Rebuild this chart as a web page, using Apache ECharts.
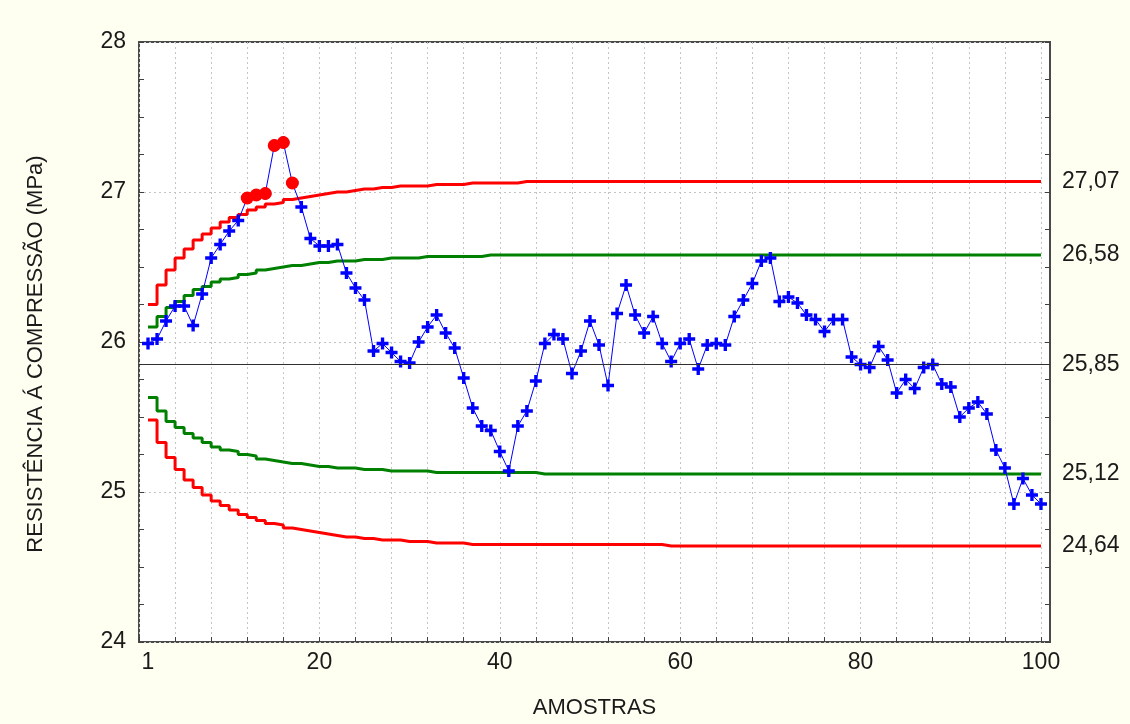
<!DOCTYPE html>
<html>
<head>
<meta charset="utf-8">
<script src="https://cdn.jsdelivr.net/npm/echarts@6/dist/echarts.min.js"></script>
<style>
html,body{margin:0;padding:0;background:#FEFEF1;}
#chart{width:1130px;height:724px;}
</style>
</head>
<body>
<div id="chart"></div>
<script>
// ---- data ----
const ewma = [
25.99,26.02,26.14,26.24,26.24,26.11,26.32,26.56,26.65,26.74,
26.81,26.96,26.98,26.99,27.31,27.33,27.06,26.90,26.69,26.64,
26.64,26.65,26.46,26.36,26.28,25.94,25.99,25.93,25.87,25.86,
26.00,26.10,26.18,26.06,25.96,25.76,25.56,25.44,25.41,25.27,
25.14,25.44,25.54,25.74,25.99,26.05,26.02,25.79,25.94,26.14,
25.98,25.71,26.19,26.38,26.18,26.06,26.17,25.99,25.87,25.99,
26.02,25.82,25.98,25.99,25.98,26.17,26.28,26.39,26.54,26.56,
26.27,26.30,26.26,26.18,26.15,26.07,26.15,26.15,25.90,25.85,
25.83,25.97,25.88,25.66,25.75,25.69,25.83,25.85,25.72,25.70,
25.50,25.56,25.60,25.52,25.28,25.16,24.92,25.09,24.98,24.92
];
const outOfControl = [12,13,14,15,16,17];

const redUpper = [
26.25,26.38,26.48,26.56,26.62,26.68,26.72,26.76,26.80,26.83,
26.85,26.88,26.90,26.92,26.93,26.95,26.96,26.97,26.98,26.99,
27.00,27.00,27.01,27.02,27.02,27.03,27.03,27.04,27.04,27.04,
27.04,27.05,27.05,27.05,27.05,27.06,27.06,27.06,27.06,27.06,
27.06,27.07,27.07,27.07,27.07,27.07,27.07,27.07,27.07,27.07,
27.07,27.07,27.07,27.07,27.07,27.07,27.07,27.07,27.07,27.07,
27.07,27.07,27.07,27.07,27.07,27.07,27.07,27.07,27.07,27.07,
27.07,27.07,27.07,27.07,27.07,27.07,27.07,27.07,27.07,27.07,
27.07,27.07,27.07,27.07,27.07,27.07,27.07,27.07,27.07,27.07,
27.07,27.07,27.07,27.07,27.07,27.07,27.07,27.07,27.07,27.07
];
const redLower = [
25.48,25.33,25.23,25.15,25.08,25.03,24.98,24.94,24.91,24.88,
24.85,24.83,24.81,24.79,24.78,24.76,24.75,24.74,24.73,24.72,
24.71,24.70,24.70,24.69,24.69,24.68,24.68,24.68,24.67,24.67,
24.67,24.66,24.66,24.66,24.66,24.65,24.65,24.65,24.65,24.65,
24.65,24.65,24.65,24.65,24.65,24.65,24.65,24.65,24.65,24.65,
24.65,24.65,24.65,24.65,24.65,24.65,24.65,24.64,24.64,24.64,
24.64,24.64,24.64,24.64,24.64,24.64,24.64,24.64,24.64,24.64,
24.64,24.64,24.64,24.64,24.64,24.64,24.64,24.64,24.64,24.64,
24.64,24.64,24.64,24.64,24.64,24.64,24.64,24.64,24.64,24.64,
24.64,24.64,24.64,24.64,24.64,24.64,24.64,24.64,24.64,24.64
];
const greenUpper = [
26.10,26.17,26.23,26.27,26.31,26.35,26.37,26.40,26.42,26.43,
26.45,26.46,26.48,26.49,26.50,26.51,26.51,26.52,26.53,26.53,
26.54,26.54,26.54,26.55,26.55,26.55,26.56,26.56,26.56,26.56,
26.57,26.57,26.57,26.57,26.57,26.57,26.57,26.58,26.58,26.58,
26.58,26.58,26.58,26.58,26.58,26.58,26.58,26.58,26.58,26.58,
26.58,26.58,26.58,26.58,26.58,26.58,26.58,26.58,26.58,26.58,
26.58,26.58,26.58,26.58,26.58,26.58,26.58,26.58,26.58,26.58,
26.58,26.58,26.58,26.58,26.58,26.58,26.58,26.58,26.58,26.58,
26.58,26.58,26.58,26.58,26.58,26.58,26.58,26.58,26.58,26.58,
26.58,26.58,26.58,26.58,26.58,26.58,26.58,26.58,26.58,26.58
];
const greenLower = [
25.63,25.54,25.47,25.43,25.39,25.36,25.33,25.30,25.28,25.27,
25.25,25.24,25.22,25.21,25.20,25.19,25.19,25.18,25.17,25.17,
25.16,25.16,25.16,25.15,25.15,25.15,25.14,25.14,25.14,25.14,
25.14,25.13,25.13,25.13,25.13,25.13,25.13,25.13,25.13,25.13,
25.13,25.13,25.13,25.12,25.12,25.12,25.12,25.12,25.12,25.12,
25.12,25.12,25.12,25.12,25.12,25.12,25.12,25.12,25.12,25.12,
25.12,25.12,25.12,25.12,25.12,25.12,25.12,25.12,25.12,25.12,
25.12,25.12,25.12,25.12,25.12,25.12,25.12,25.12,25.12,25.12,
25.12,25.12,25.12,25.12,25.12,25.12,25.12,25.12,25.12,25.12,
25.12,25.12,25.12,25.12,25.12,25.12,25.12,25.12,25.12,25.12
];
const centerLine = 25.85;

const xTickLabels = [1, 20, 40, 60, 80, 100];
const rightTickLabels = [27.07, 26.58, 25.85, 25.12, 24.64];
const xTitle = 'AMOSTRAS';
const yTitle = 'RESISTÊNCIA Á COMPRESSÃO (MPa)';

// ---- build ----
const toPairs = arr => arr.map((v, i) => [i + 1, v]);
const xMinorTicks = [];
for (let t = 0; t <= 100; t += 4) xMinorTicks.push(t);

const font = 'Liberation Sans, Arial, sans-serif';
const txt = '#1a1a1a';
const tickCol = '#404040';
const plusPath = 'path://M3.6,0H6.4V3.6H10V6.4H6.4V10H3.6V6.4H0V3.6H3.6Z';

const chart = echarts.init(document.getElementById('chart'), null, {renderer: 'canvas'});
chart.setOption({
  backgroundColor: '#FEFEF1',
  animation: false,
  grid: {
    left: 139, right: 80, top: 42, bottom: 82,
    show: true, backgroundColor: '#ffffff',
    borderColor: '#4a4a4a', borderWidth: 2
  },
  xAxis: [{
    type: 'value', min: 0, max: 101, interval: 20,
    name: xTitle, nameLocation: 'middle', nameGap: 55,
    nameTextStyle: {fontFamily: font, fontSize: 22, color: txt},
    axisLine: {show: false},
    axisTick: {show: true, inside: true, length: 5, customValues: xMinorTicks,
      lineStyle: {color: tickCol, width: 1}},
    axisLabel: {customValues: xTickLabels, fontFamily: font, fontSize: 23, color: txt, margin: 9},
    splitLine: {show: true, lineStyle: {color: '#c4c4c4', type: [2, 3], width: 1}}
  }],
  yAxis: [{
    type: 'value', min: 24, max: 28, interval: 1, position: 'left',
    name: yTitle, nameLocation: 'middle', nameGap: 92, nameRotate: 90,
    nameTextStyle: {fontFamily: font, fontSize: 22, color: txt, padding: [0, 24, 0, 0]},
    axisLine: {show: false},
    axisTick: {show: true, inside: true, length: 5, lineStyle: {color: tickCol, width: 1}},
    minorTick: {show: true, splitNumber: 4, length: 5, lineStyle: {color: tickCol, width: 1}},
    axisLabel: {fontFamily: font, fontSize: 23, color: txt, margin: 13,
      formatter: v => String(Math.round(v))},
    splitLine: {show: true, lineStyle: {color: '#c4c4c4', type: [2, 3], width: 1}}
  }, {
    type: 'value', min: 24, max: 28, interval: 1, position: 'right',
    axisLine: {show: false},
    axisTick: {show: true, inside: true, length: 5, lineStyle: {color: tickCol, width: 1}},
    minorTick: {show: true, splitNumber: 4, length: 5, lineStyle: {color: tickCol, width: 1}},
    axisLabel: {customValues: rightTickLabels, fontFamily: font, fontSize: 23, color: txt, margin: 12,
      formatter: v => v.toFixed(2).replace('.', ',')},
    splitLine: {show: false}
  }],
  series: [
    {
      type: 'line', name: 'LSC', data: toPairs(redUpper), step: 'end',
      symbol: 'none', lineStyle: {color: '#ff0000', width: 3}, z: 2,
      markLine: {
        silent: true, symbol: 'none', label: {show: false},
        lineStyle: {color: '#303030', width: 1.2, type: 'solid'},
        data: [{yAxis: centerLine}]
      }
    },
    {type: 'line', name: 'LIC', data: toPairs(redLower), step: 'end',
      symbol: 'none', lineStyle: {color: '#ff0000', width: 3}, z: 2},
    {type: 'line', name: 'LSA', data: toPairs(greenUpper), step: 'end',
      symbol: 'none', lineStyle: {color: '#008000', width: 3}, z: 2},
    {type: 'line', name: 'LIA', data: toPairs(greenLower), step: 'end',
      symbol: 'none', lineStyle: {color: '#008000', width: 3}, z: 2},
    {
      type: 'line', name: 'EWMA', data: toPairs(ewma),
      symbol: plusPath, symbolSize: 12, showAllSymbol: true,
      itemStyle: {color: '#0000ff'},
      lineStyle: {color: '#0000ff', width: 1}, z: 3
    },
    {
      type: 'scatter', name: 'Fora', data: outOfControl.map(i => [i, ewma[i - 1]]),
      symbol: 'circle', symbolSize: 13, itemStyle: {color: '#ff0000', opacity: 1}, z: 4
    }
  ]
});
</script>
</body>
</html>
